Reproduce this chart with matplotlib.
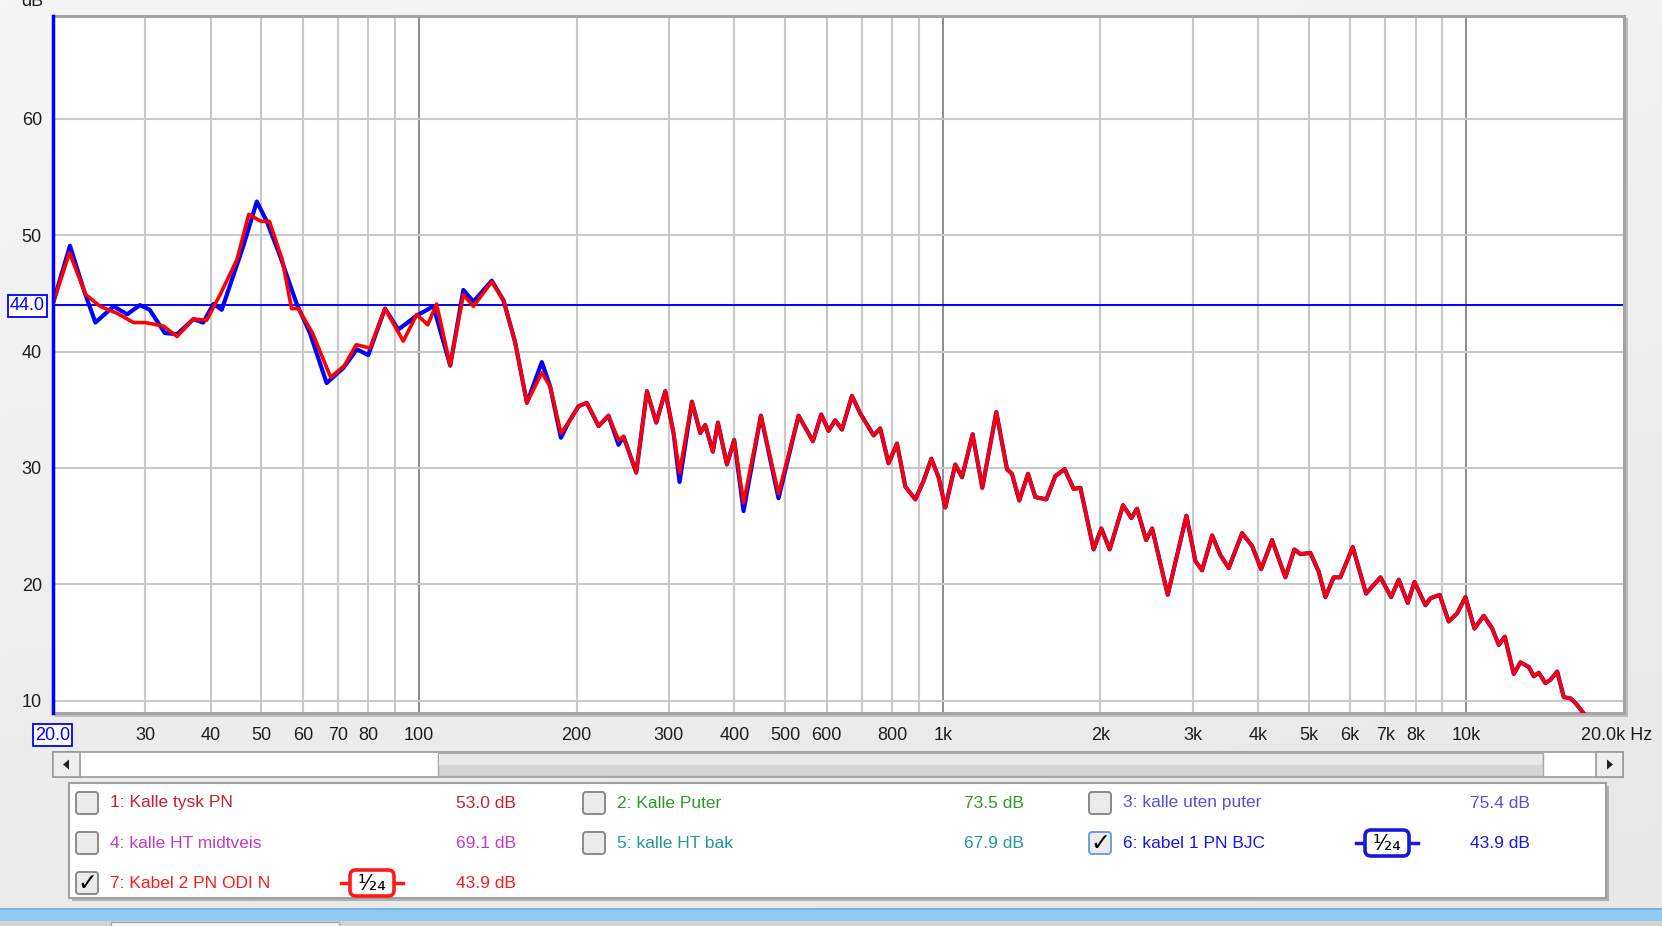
import numpy as np
import matplotlib
matplotlib.use("Agg")
import matplotlib.pyplot as plt
from matplotlib.patches import Rectangle, FancyBboxPatch, Polygon
from matplotlib.ticker import NullLocator
import matplotlib.transforms as mtransforms

plt.rcParams['font.family'] = ['Liberation Sans', 'DejaVu Sans']

# ---------------- data ----------------
lo_freq_blue = [20.0, 21.55, 22.9, 24.1, 26.1, 27.7, 29.3, 30.6, 32.7, 34.5,
                37.1, 38.7, 40.5, 42.0, 46.2, 49.0, 51.2, 54.3, 58.4, 61.9,
                66.6, 71.7, 76.1, 80.0, 86.1, 91.3, 99.0, 106.5, 114.7, 121.5,
                127.0, 137.7]
lo_db_blue = [44.2, 49.1, 45.3, 42.5, 43.9, 43.2, 44.0, 43.6, 41.6, 41.5,
              42.8, 42.5, 44.1, 43.6, 49.1, 52.9, 51.2, 48.2, 44.1, 41.6,
              37.3, 38.6, 40.2, 39.7, 43.7, 41.9, 43.1, 43.9, 38.8, 45.3,
              44.3, 46.1]

lo_freq_red = [20.0, 21.5, 23.1, 24.6, 26.5, 28.5, 30.0, 32.5, 34.5, 37.1,
               39.3, 41.7, 44.9, 47.3, 49.9, 51.8, 54.8, 57.1, 58.8, 62.6,
               67.8, 72.0, 75.9, 80.6, 86.1, 93.3, 99.0, 103.9, 108.0, 114.7,
               121.5, 127.0, 137.7]
lo_db_red = [44.1, 48.5, 44.9, 43.9, 43.3, 42.5, 42.5, 42.2, 41.3, 42.8,
             42.7, 44.9, 47.9, 51.8, 51.2, 51.2, 47.9, 43.7, 43.7, 41.6,
             37.8, 38.8, 40.6, 40.3, 43.7, 40.9, 43.2, 42.3, 44.1, 38.8,
             44.9, 43.9, 46.0]

hi_freq = [145, 152.6, 160.7, 171.6, 178, 186.6, 192.9, 201.6, 209.1, 220.2,
           230, 240.4, 245.8, 259.9, 272.4, 283.8, 295.3, 306.2, 314.4, 332,
           344.4, 352, 364, 372.2, 387.2, 399.8, 416.6, 449.6, 485.8, 530.6,
           565.2, 586.2, 605.4, 623.6, 642.2, 671, 695.8, 738, 759.8, 788.2,
           818, 848.4, 886.6, 919.6, 951.2, 982.2, 1011.6, 1056.8, 1088.6, 1140.6,
           1190.2, 1265.8, 1326.8, 1356, 1400.4, 1455.2, 1502.6, 1577.2, 1640.8, 1709.4,
           1778.4, 1832, 1942, 2008.8, 2084, 2210, 2292, 2350, 2446, 2512,
           2690, 2920, 3038, 3128, 3270, 3392, 3518, 3730, 3898, 4056,
           4256, 4512, 4694, 4820, 5036, 5224, 5380, 5580, 5746, 6068,
           6276, 6434, 6608, 6854, 7184, 7428, 7728, 7960, 8354, 8540,
           8894, 9252, 9602, 9960, 10362, 10796, 11202, 11532, 11842, 12318,
           12686, 13156, 13450, 13750, 14158, 14476, 14910, 15348, 15806, 16156,
           16758, 17300]
hi_db_blue = [44.4, 40.8, 35.6, 39.1, 37.0, 32.6, 33.9, 35.3, 35.6, 33.6,
              34.5, 32.0, 32.7, 29.6, 36.6, 33.9, 36.6, 33.0, 28.8, 35.7,
              33.0, 33.7, 31.4, 33.9, 30.3, 32.4, 26.3, 34.5, 27.4, 34.5,
              32.3, 34.6, 33.2, 34.1, 33.3, 36.2, 34.7, 32.8, 33.4, 30.4,
              32.1, 28.4, 27.3, 28.9, 30.8, 29.2, 26.6, 30.3, 29.2, 32.9,
              28.3, 34.8, 29.9, 29.5, 27.2, 29.5, 27.5, 27.3, 29.3, 29.9,
              28.2, 28.3, 23.0, 24.8, 23.0, 26.8, 25.7, 26.5, 23.8, 24.8,
              19.1, 25.9, 22.0, 21.2, 24.2, 22.5, 21.4, 24.4, 23.3, 21.3,
              23.8, 20.6, 23.0, 22.6, 22.7, 21.1, 18.9, 20.6, 20.6, 23.2,
              20.9, 19.2, 19.8, 20.6, 18.9, 20.4, 18.4, 20.2, 18.2, 18.8,
              19.1, 16.8, 17.5, 18.9, 16.2, 17.3, 16.2, 14.8, 15.5, 12.3,
              13.3, 12.9, 12.1, 12.4, 11.5, 11.8, 12.5, 10.3, 10.2, 9.8,
              8.9, 8.3]
hi_db_red = [44.4, 40.8, 35.6, 38.2, 37.0, 33.0, 33.9, 35.3, 35.6, 33.6,
             34.5, 32.4, 32.7, 29.6, 36.6, 33.9, 36.6, 33.0, 29.6, 35.7,
             33.0, 33.7, 31.4, 33.9, 30.3, 32.4, 27.0, 34.5, 27.8, 34.5,
             32.3, 34.6, 33.2, 34.1, 33.3, 36.2, 34.7, 32.8, 33.4, 30.4,
             32.1, 28.4, 27.3, 28.9, 30.8, 29.2, 26.6, 30.3, 29.2, 32.9,
             28.3, 34.8, 29.9, 29.5, 27.2, 29.5, 27.5, 27.3, 29.3, 29.9,
             28.2, 28.3, 23.0, 24.8, 23.0, 26.8, 25.7, 26.5, 23.8, 24.8,
             19.1, 25.9, 22.0, 21.2, 24.2, 22.5, 21.4, 24.4, 23.3, 21.3,
             23.8, 20.6, 23.0, 22.6, 22.7, 21.1, 18.9, 20.6, 20.6, 23.2,
             20.9, 19.2, 19.8, 20.6, 18.9, 20.4, 18.4, 20.2, 18.2, 18.8,
             19.1, 16.8, 17.5, 18.9, 16.2, 17.3, 16.2, 14.8, 15.5, 12.3,
             13.3, 12.9, 12.1, 12.4, 11.5, 11.8, 12.5, 10.3, 10.2, 9.8,
             8.9, 8.3]

tick_freqs = [30, 40, 50, 60, 70, 80, 100, 200, 300, 400, 500, 600, 800,
              1000, 2000, 3000, 4000, 5000, 6000, 7000, 8000, 10000]
tick_labels = ['30', '40', '50', '60', '70', '80', '100', '200', '300', '400',
               '500', '600', '800', '1k', '2k', '3k', '4k', '5k', '6k', '7k',
               '8k', '10k']
grid_freqs = [30, 40, 50, 60, 70, 80, 90, 200, 300, 400, 500, 600, 700, 800, 900,
              2000, 3000, 4000, 5000, 6000, 7000, 8000, 9000]
decade_freqs = [100, 1000, 10000]
y_ticks = [10, 20, 30, 40, 50, 60]
cursor_level = 44.0

legend_names = ['1: Kalle tysk PN', '2: Kalle Puter', '3: kalle uten puter',
                '4: kalle HT midtveis', '5: kalle HT bak', '6: kabel 1 PN BJC',
                '7: Kabel 2 PN ODI N']
legend_values = ['53.0 dB', '73.5 dB', '75.4 dB', '69.1 dB', '67.9 dB',
                 '43.9 dB', '43.9 dB']
legend_colors = ['#c8202e', '#2f9a2a', '#5850e0', '#c03cc8', '#22999a',
                 '#1818e0', '#ff1a1a']
legend_checked = [False, False, False, False, False, True, True]
legend_smooth = [None, None, None, None, None, '1/24', '1/24']

# ---------------- figure ----------------
W, H = 1662, 926
fig = plt.figure(figsize=(W / 100, H / 100), dpi=100)

# background / UI layer in pixel coordinates (y downward)
ui = fig.add_axes([0, 0, 1, 1], zorder=0)
ui.set_xlim(0, W)
ui.set_ylim(H, 0)
ui.axis('off')
yy, xx = np.mgrid[0:H:2, 0:W:2]
g = 0.965 - 0.045 * (yy / H) - 0.015 * (xx / W)
ui.imshow(np.dstack([g, g, g]), extent=[0, W, H, 0], aspect='auto',
          interpolation='bilinear', zorder=0)

# plot shadow
ui.add_patch(Rectangle((55, 18), 1573, 699, fc='#bdbdbd', ec='none', zorder=1))

# main axes
L, R, T, B = 53, 1624, 16, 713
ax = fig.add_axes([L / W, 1 - B / H, (R - L) / W, (B - T) / H], zorder=2)
ax.set_facecolor('white')
ax.set_xscale('log')
ax.set_xlim(20, 20000)
ax.set_ylim(8.94, 68.85)

for f in grid_freqs:
    ax.axvline(f, color='#c9c9c9', lw=1.5, zorder=1)
for f in decade_freqs:
    ax.axvline(f, color='#8c8c8c', lw=1.4, zorder=1)
for v in y_ticks:
    ax.axhline(v, color='#c9c9c9', lw=1.5, zorder=1)

ax.axhline(cursor_level, color='#0000ff', lw=1.4, zorder=2)
ax.axvline(20, color='#0000ff', lw=2.5, zorder=5, clip_on=False)

blue_f = lo_freq_blue + hi_freq
blue_v = lo_db_blue + hi_db_blue
red_f = lo_freq_red + hi_freq
red_v = lo_db_red + hi_db_red
ax.plot(blue_f, blue_v, color='#0000ff', lw=3.0, solid_joinstyle='round',
        solid_capstyle='round', zorder=3)
ax.plot(red_f, red_v, color='#ff0000', lw=2.6, solid_joinstyle='round',
        solid_capstyle='round', zorder=4)

ax.set_xticks(tick_freqs)
ax.set_xticklabels(tick_labels)
ax.xaxis.set_minor_locator(NullLocator())
ax.set_yticks(y_ticks)
ax.set_yticklabels([str(v) for v in y_ticks])
ax.tick_params(axis='both', length=0, labelsize=13, labelcolor='#1e1e1e')
ax.tick_params(axis='x', pad=10)
ax.tick_params(axis='y', pad=8)
for s in ax.spines.values():
    s.set_color('#a4a4a4')
    s.set_linewidth(2.2)

# overlay layer for boxed labels
ov = fig.add_axes([0, 0, 1, 1], zorder=3)
ov.set_xlim(0, W)
ov.set_ylim(H, 0)
ov.axis('off')
ov.patch.set_alpha(0)

ov.text(27.5, 306, '44.0', color='#0000ff', fontsize=13, ha='center', va='center',
        bbox=dict(boxstyle='square,pad=0.12', fc='white', ec='#0000ff', lw=1.3))
ov.text(52.5, 735, '20.0', color='#0000ff', fontsize=13, ha='center', va='center',
        bbox=dict(boxstyle='square,pad=0.12', fc='white', ec='#0000ff', lw=1.3))
ov.text(1581, 735, '20.0k Hz', color='#1e1e1e', fontsize=13, ha='left', va='center')
ov.text(32, 6, 'dB', color='#1e1e1e', fontsize=13, ha='center', va='baseline')

# ---------------- scrollbar ----------------
sy0, sy1 = 752, 777
ui.add_patch(Rectangle((53, sy0), 1570, sy1 - sy0, fc='white', ec='#9a9a9a', lw=1.2, zorder=2))
ui.add_patch(Rectangle((438, sy0 + 1), 1105, sy1 - sy0 - 2, fc='#d6d6d6', ec='#a8a8a8', lw=1.0, zorder=3))
ui.add_patch(Rectangle((439, sy0 + 2), 1103, (sy1 - sy0) / 2 - 2, fc='#e8e8e8', ec='none', zorder=3))
for bx0 in (53, 1596):
    ui.add_patch(Rectangle((bx0, sy0), 27, sy1 - sy0, fc='#eeeeee', ec='#9a9a9a', lw=1.2, zorder=4))
cy = (sy0 + sy1) / 2
ui.add_patch(Polygon([[63, cy], [69, cy - 5], [69, cy + 5]], closed=True, fc='#222222', ec='none', zorder=5))
ui.add_patch(Polygon([[1613, cy], [1607, cy - 5], [1607, cy + 5]], closed=True, fc='#222222', ec='none', zorder=5))

# ---------------- legend panel ----------------
lx0, ly0, lx1, ly1 = 69, 783, 1606, 898
ui.add_patch(Rectangle((lx0 + 3, ly0 + 3), lx1 - lx0, ly1 - ly0, fc='#b0b0b0', ec='none', zorder=2))
ui.add_patch(Rectangle((lx0, ly0), lx1 - lx0, ly1 - ly0, fc='white', ec='#a0a0a0', lw=1.5, zorder=3))

row_y = [803, 843, 883]
col_box = [87, 594, 1100]
col_text = [110, 617, 1123]
col_val = [516, 1024, 1530]
col_badge = [372, 879, 1387]

for i, name in enumerate(legend_names):
    r, c = divmod(i, 3)
    yc = row_y[r]
    bx = col_box[c]
    ec = '#6f9fd8' if i == 5 else '#8a8a8a'
    ui.add_patch(FancyBboxPatch((bx - 11, yc - 11), 22, 22,
                                boxstyle='round,pad=0,rounding_size=3',
                                fc='#ebebeb', ec=ec, lw=1.4, zorder=4))
    if legend_checked[i]:
        ui.text(bx + 0.5, yc + 0.5, '\u2713', fontsize=17, fontweight='bold',
                color='black', ha='center', va='center', zorder=5,
                family=['DejaVu Sans'])
    ui.text(col_text[c], yc, name, color=legend_colors[i], fontsize=12.5,
            ha='left', va='center', zorder=5)
    ui.text(col_val[c], yc, legend_values[i], color=legend_colors[i], fontsize=12.5,
            ha='right', va='center', zorder=5)
    if legend_smooth[i]:
        gx = col_badge[c]
        ui.plot([gx - 31, gx + 31], [yc, yc], color=legend_colors[i], lw=2.5, zorder=4)
        ui.add_patch(FancyBboxPatch((gx - 22, yc - 13), 44, 26,
                                    boxstyle='round,pad=0,rounding_size=6',
                                    fc='white', ec=legend_colors[i], lw=2.6, zorder=5))
        ui.text(gx, yc + 1, '\u00b9\u2044\u2082\u2084', fontsize=15, color='black',
                ha='center', va='center', zorder=6, family=['DejaVu Sans'])

# ---------------- bottom status bar ----------------
ui.add_patch(Rectangle((0, 908), W, 13, fc='#92c9f3', ec='none', zorder=2))
ui.plot([0, W], [908.5, 908.5], color='#6fb0ea', lw=1.2, zorder=3)
ui.add_patch(Rectangle((0, 921), W, 5, fc='#d2d2d2', ec='none', zorder=2))
ui.add_patch(Rectangle((111, 922), 228, 6, fc='#f4f4f4', ec='#a0a0a0', lw=0.8, zorder=3))

fig.savefig('out.png', dpi=100)
